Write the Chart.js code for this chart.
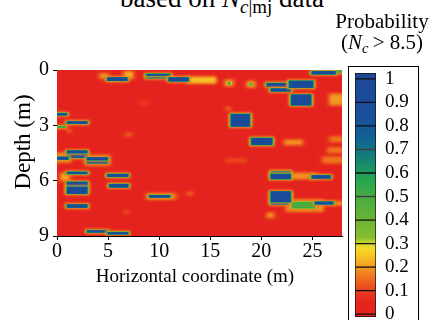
<!DOCTYPE html>
<html>
<head>
<meta charset="utf-8">
<script src="https://cdn.jsdelivr.net/npm/chart.js@4"></script>
<style>
	body { margin: 0; background: #fff; }
	#wrap { position: relative; width: 435px; height: 320px; overflow: hidden; font-family: "Liberation Serif", "Times New Roman", serif; color: #000; }
	#main { position: absolute; left: 0; top: 0; }
	#cbBox { position: absolute; left: 348px; top: 66px; width: 71px; height: 262px; border: 1px solid #000; box-sizing: border-box; }
	#cb { position: absolute; left: 349px; top: 66px; }
	#title { position: absolute; left: 0; top: -15px; width: 444px; text-align: center; font-size: 27px; line-height: 27px; white-space: nowrap; }
	#cbTitle { position: absolute; left: 326px; top: 11px; width: 112px; text-align: center; font-size: 21px; line-height: 21px; white-space: nowrap; }
	.sub { font-size: 70%; position: relative; top: 0.3em; }
</style>
</head>
<body>
<div id="wrap">
	<div id="title">based on <i>N</i><span class="sub"><i>c</i>|mj</span> data</div>
	<canvas id="main" width="435" height="320"></canvas>
	<div id="cbTitle">Probability<br>(<i>N</i><span class="sub"><i>c</i></span>&thinsp;&gt; 8.5)</div>
	<div id="cbBox"></div>
	<canvas id="cb" width="69" height="254"></canvas>
</div>
<script>
// axes
const xTicks = [0, 5, 10, 15, 20, 25];
const depthTicks = [0, 3, 6, 9];
const xTitle = 'Horizontal coordinate (m)';
const yTitle = 'Depth (m)';

// anomalies: horizontal extent (m), depth extent (m), peak probability
const anomalyX0 =     [5.0, 6.6, 4.2, 8.8, 8.8, 11.0, 12.8, 16.5, 16.75, 18.7, 18.85, 17.1, 25.0, 27.2, 20.6, 22.8, 21.0, 23.0, 26.7, 19.1, 22.3, 26.7, 26.5, 21.0, 21.0, 22.8, 25.0, 21.0, 21.0, 23.0, 22.5, 25.3, 27.0, 20.6, 26.0, 0.0, 0.0, 1.05, 1.05, 1.05, 0.0, 0.0, 3.0, 3.0, 2.7, 1.05, 0.4, 1.05, 1.05, 1.05, 5.0, 5.2, 9.1, 8.8, 3.0, 5.0, 1.0, 6.7, 6.5, 12.7, 16.5, 16.5, 8.0];
const anomalyX1 =     [6.8, 7.4, 5.0, 11.0, 11.0, 12.8, 15.5, 17.2, 16.95, 19.3, 19.1, 18.8, 27.2, 28.0, 22.6, 25.0, 22.8, 24.8, 28.0, 21.0, 24.0, 28.0, 28.0, 22.8, 22.8, 25.4, 26.7, 22.8, 22.6, 25.3, 26.0, 27.0, 28.0, 21.2, 28.0, 0.9, 0.8, 2.9, 2.9, 2.9, 1.05, 1.3, 4.9, 4.9, 5.2, 2.9, 1.2, 2.9, 2.9, 2.9, 6.9, 6.9, 11.0, 11.6, 4.9, 6.9, 1.4, 7.3, 7.1, 13.3, 18.6, 17.0, 9.0];
const anomalyTop =    [0.42, 0.10, 0.20, 0.22, 0.36, 0.42, 0.40, 0.55, 0.66, 0.62, 0.72, 2.40, 0.08, 0.02, 0.72, 0.60, 1.02, 1.35, 1.30, 3.70, 3.80, 3.60, 4.20, 5.50, 5.65, 5.60, 5.72, 6.60, 7.18, 7.15, 7.05, 7.15, 7.15, 7.75, 4.70, 2.35, 3.04, 2.80, 4.38, 4.58, 4.72, 4.50, 4.75, 4.92, 4.60, 5.53, 5.60, 6.08, 6.35, 7.30, 5.65, 6.20, 6.80, 6.70, 8.70, 8.80, 3.20, 3.40, 7.60, 6.60, 4.80, 2.00, 1.70];
const anomalyBottom = [0.57, 0.45, 0.45, 0.30, 0.44, 0.60, 0.70, 0.85, 0.78, 0.92, 0.84, 3.05, 0.22, 0.15, 0.88, 0.95, 1.15, 1.90, 1.90, 4.05, 4.05, 3.90, 4.50, 5.60, 5.90, 5.90, 5.87, 7.15, 7.28, 7.50, 7.65, 7.28, 7.30, 8.00, 5.05, 2.45, 3.12, 2.90, 4.50, 4.75, 4.85, 5.00, 4.88, 5.05, 5.20, 5.63, 6.00, 6.30, 6.70, 7.45, 5.78, 6.35, 6.90, 7.00, 8.80, 8.90, 3.40, 3.60, 7.80, 6.80, 5.00, 2.20, 1.90];
const anomalyProb =   [0.95, 0.24, 0.20, 0.85, 0.75, 0.95, 0.25, 0.22, 0.50, 0.22, 0.45, 0.95, 0.90, 0.55, 0.90, 0.95, 0.90, 0.95, 0.20, 0.95, 0.20, 0.16, 0.16, 0.70, 0.95, 0.20, 0.90, 0.95, 0.85, 0.50, 0.22, 0.85, 0.22, 0.20, 0.16, 0.85, 0.55, 0.90, 0.90, 0.85, 0.90, 0.20, 0.90, 0.85, 0.15, 0.85, 0.22, 0.95, 0.95, 0.90, 0.90, 0.95, 0.90, 0.18, 0.85, 0.85, 0.14, 0.14, 0.12, 0.14, 0.12, 0.14, 0.10];

// colour bar
const colorbarEdges = [-0.012, 0, 0.1, 0.2, 0.3, 0.4, 0.5, 0.6, 0.7, 0.8, 0.9, 1, 1.025];
const colorbarTicks = [0, 0.1, 0.2, 0.3, 0.4, 0.5, 0.6, 0.7, 0.8, 0.9, 1];

const FONT = '"Liberation Serif", "Times New Roman", serif';

const colorStops = [
	[0.00, [228, 34, 30]],
	[0.06, [230, 38, 30]],
	[0.12, [236, 80, 30]],
	[0.18, [241, 135, 32]],
	[0.24, [246, 190, 35]],
	[0.29, [248, 228, 40]],
	[0.32, [140, 190, 50]],
	[0.40, [105, 180, 52]],
	[0.50, [70, 172, 65]],
	[0.58, [35, 165, 82]],
	[0.66, [20, 130, 118]],
	[0.74, [16, 100, 145]],
	[0.82, [25, 80, 155]],
	[1.00, [28, 72, 152]]
];

function probColor(p) {
	p = Math.max(0, Math.min(1, p));
	for (let i = 1; i < colorStops.length; i++) {
		const [p1, c1] = colorStops[i];
		const [p0, c0] = colorStops[i - 1];
		if (p <= p1) {
			const t = (p - p0) / (p1 - p0);
			const c = c0.map((v, k) => Math.round(v + (c1[k] - v) * t));
			return `rgb(${c[0]},${c[1]},${c[2]})`;
		}
	}
	return 'rgb(28,72,152)';
}

// paints the probability map inside the plot area (faint patches first)
const heatPlugin = {
	id: 'heat',
	beforeDatasetsDraw(chart) {
		const { ctx, chartArea: a, scales: { x, y } } = chart;
		ctx.save();
		ctx.beginPath();
		ctx.rect(a.left, a.top, a.width, a.height);
		ctx.clip();
		ctx.fillStyle = probColor(0.02);
		ctx.fillRect(a.left, a.top, a.width, a.height);
		const order = anomalyProb.map((p, i) => i).sort((i, j) => anomalyProb[i] - anomalyProb[j]);
		order.forEach(i => {
			const p = anomalyProb[i];
			const steps = Math.max(1, Math.ceil(p / 0.12));
			for (let k = 0; k < steps; k++) {
				const v = p * (k + 1) / steps;
				const f = steps > 1 ? 1 - k / (steps - 1) : 0;
				const padX = 0.3 * f, padY = 0.06 * f;
				const l = x.getPixelForValue(anomalyX0[i] - padX);
				const r = x.getPixelForValue(anomalyX1[i] + padX);
				const t = y.getPixelForValue(anomalyTop[i] - padY);
				const b = y.getPixelForValue(anomalyBottom[i] + padY);
				ctx.filter = v < 0.3 ? 'blur(1.5px)' : 'blur(0.6px)';
				ctx.fillStyle = probColor(v);
				ctx.fillRect(l, t, r - l, b - t);
			}
		});
		ctx.restore();
	}
};

const axisTitles = {
	id: 'axisTitles',
	afterDraw(chart) {
		const c = chart.ctx;
		c.save();
		c.fillStyle = '#000';
		c.textAlign = 'center';
		c.textBaseline = 'alphabetic';
		c.font = '19px ' + FONT;
		c.fillText(xTitle, 195, 282);
		c.font = '23px ' + FONT;
		c.translate(30, 142);
		c.rotate(-Math.PI / 2);
		c.fillText(yTitle, 0, 0);
		c.restore();
	}
};

new Chart(document.getElementById('main'), {
	type: 'scatter',
	data: { datasets: [{ data: [], pointRadius: 0 }] },
	options: {
		responsive: false,
		animation: false,
		layout: { padding: { top: 70, right: 93, left: 0, bottom: 0 } },
		plugins: { legend: { display: false }, tooltip: { enabled: false } },
		scales: {
			x: {
				type: 'linear', min: 0, max: 27.9,
				afterBuildTicks: s => { s.ticks = xTicks.map(v => ({ value: v })); },
				afterFit: s => { s.height = 84; },
				grid: { drawOnChartArea: false, tickLength: 4, color: '#000' },
				border: { color: '#000', width: 1 },
				ticks: { color: '#000', font: { family: FONT, size: 20 }, padding: 0, maxRotation: 0, autoSkip: false }
			},
			y: {
				type: 'linear', reverse: true, min: 0, max: 9,
				afterBuildTicks: s => { s.ticks = depthTicks.map(v => ({ value: v })); },
				afterFit: s => { s.width = 57; },
				grid: { drawOnChartArea: false, tickLength: 4, color: '#000' },
				border: { color: '#000', width: 1 },
				ticks: { color: '#000', font: { family: FONT, size: 20 }, padding: 4, autoSkip: false }
			}
		}
	},
	plugins: [heatPlugin, axisTitles]
});

function bandFill(context, v0, v1) {
	const chart = context.chart;
	if (!chart.chartArea) return probColor((v0 + v1) / 2);
	const ys = chart.scales.y;
	const g = chart.ctx.createLinearGradient(0, ys.getPixelForValue(v0), 0, ys.getPixelForValue(v1));
	for (let s = 0; s <= 4; s++) {
		g.addColorStop(s / 4, probColor(v0 + (v1 - v0) * s / 4));
	}
	return g;
}

new Chart(document.getElementById('cb'), {
	type: 'bar',
	data: {
		labels: [''],
		datasets: colorbarEdges.slice(0, -1).map((v, i) => ({
			data: [[v, colorbarEdges[i + 1]]],
			backgroundColor: c => bandFill(c, v, colorbarEdges[i + 1]),
			borderColor: '#111',
			borderWidth: 1,
			borderSkipped: false,
			grouped: false,
			barPercentage: 1,
			categoryPercentage: 1
		}))
	},
	options: {
		responsive: false,
		animation: false,
		layout: { padding: { top: 7, bottom: 3, left: 6, right: 0 } },
		plugins: { legend: { display: false }, tooltip: { enabled: false } },
		scales: {
			x: { display: false },
			y: {
				position: 'right', min: -0.012, max: 1.025,
				afterBuildTicks: s => { s.ticks = colorbarTicks.map(v => ({ value: v })); },
				afterFit: s => { s.width = 42; s.paddingTop = 0; s.paddingBottom = 0; },
				grid: { display: false, drawTicks: false },
				border: { display: false },
				ticks: {
					color: '#000', font: { family: FONT, size: 19 }, padding: 9, autoSkip: false,
					callback: v => (v === 0 || v === 1) ? String(v) : v.toFixed(1)
				}
			}
		}
	}
});
</script>
</body>
</html>
